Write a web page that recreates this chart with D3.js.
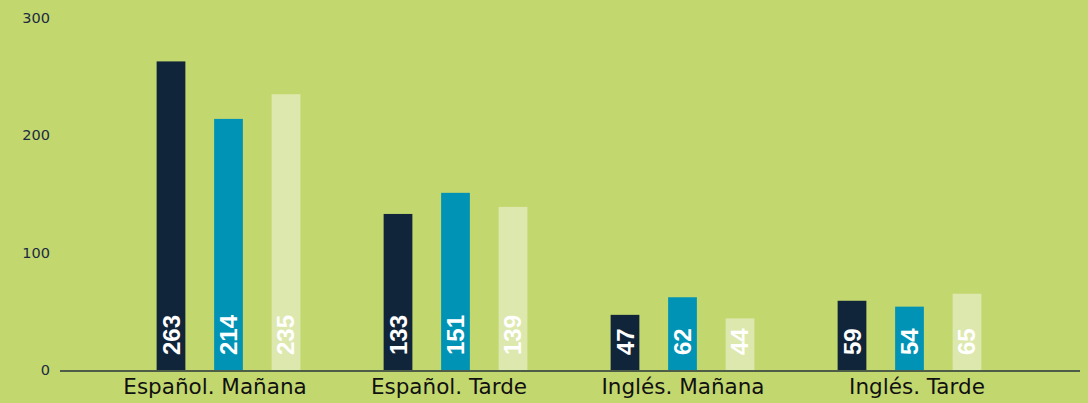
<!DOCTYPE html>
<html>
<head>
<meta charset="utf-8">
<script src="https://cdn.jsdelivr.net/npm/d3@7"></script>
<style>
  html, body { margin: 0; padding: 0; background: #c3d76f; }
  svg { display: block; }
</style>
</head>
<body>
<svg id="chart" width="1088" height="403"></svg>
<script>
// Enrolment counts per course/shift, three series per group
const categories = ["Español. Mañana", "Español. Tarde", "Inglés. Mañana", "Inglés. Tarde"];
const seriesNames = ["s1", "s2", "s3"];
const series1 = [263, 133, 47, 59];
const series2 = [214, 151, 62, 54];
const series3 = [235, 139, 44, 65];
const yTicks = [0, 100, 200, 300];

const colors = ["#10243a", "#0093b5", "#dde8ae"];
const allSeries = [series1, series2, series3];

const svg = d3.select("#chart");
const W = 1088, H = 403;

svg.append("rect").attr("width", W).attr("height", H).attr("fill", "#c3d76f");

const y = d3.scaleLinear().domain([0, 300]).range([370, 18]);
const x0 = d3.scaleBand().domain(categories).range([115, 1023]).padding(0);
const x1 = d3.scaleBand().domain(seriesNames).range([0, x0.bandwidth()])
  .paddingInner(0.5).paddingOuter(0.724);
// category label axis spans slightly wider than the bar groups
const xLabel = d3.scaleBand().domain(categories).range([98, 1034]);

// y tick labels (no axis line)
const yAxis = d3.axisLeft(y).tickValues(yTicks).tickSize(0).tickPadding(0);
const gy = svg.append("g").attr("transform", "translate(50,0)").call(yAxis);
gy.select(".domain").remove();
gy.selectAll("text")
  .attr("font-family", "'DejaVu Sans', Verdana, sans-serif")
  .attr("font-size", 14.5)
  .attr("fill", "#1c2b3f");

// bars
const groups = svg.append("g").selectAll("g")
  .data(categories)
  .join("g")
  .attr("transform", d => `translate(${x0(d)},0)`);

groups.each(function(cat, ci) {
  const g = d3.select(this);
  seriesNames.forEach((s, si) => {
    const v = allSeries[si][ci];
    g.append("rect")
      .attr("x", x1(s))
      .attr("y", y(v))
      .attr("width", x1.bandwidth())
      .attr("height", y(0) - y(v))
      .attr("fill", colors[si]);
    const cx = x1(s) + x1.bandwidth() / 2;
    g.append("text")
      .attr("transform", `translate(${cx + 8.5},${y(0) - 15}) rotate(-90)`)
      .attr("font-family", "'Liberation Sans', Arial, sans-serif")
      .attr("font-weight", "bold")
      .attr("font-size", 24)
      .attr("fill", "#ffffff")
      .text(v);
  });
});

// baseline
svg.append("line")
  .attr("x1", 60).attr("x2", 1080)
  .attr("y1", y(0) + 1).attr("y2", y(0) + 1)
  .attr("stroke", "#4d5d48").attr("stroke-width", 2);

// category labels
const xAxis = d3.axisBottom(xLabel).tickSize(0).tickPadding(0);
const gx = svg.append("g").attr("transform", `translate(0,${y(0) + 7})`).call(xAxis);
gx.select(".domain").remove();
gx.selectAll("text")
  .attr("font-family", "'DejaVu Sans', Verdana, sans-serif")
  .attr("font-size", 21.5)
  .attr("fill", "#111111")
  .attr("dy", "0.8em");
</script>
</body>
</html>
